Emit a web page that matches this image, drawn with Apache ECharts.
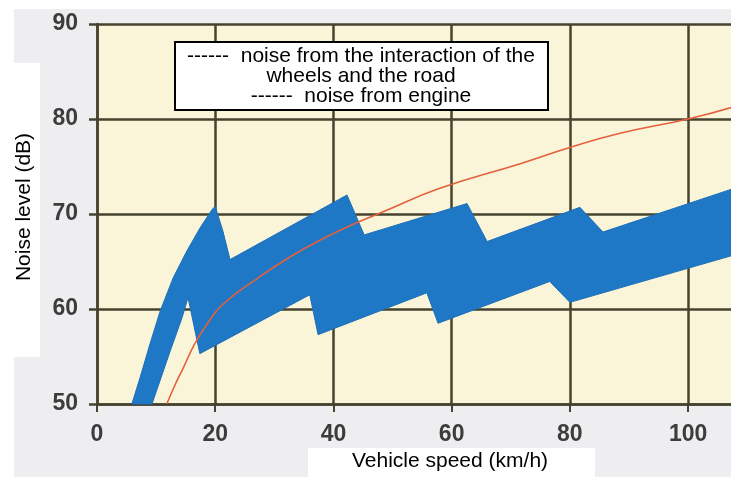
<!DOCTYPE html>
<html>
<head>
<meta charset="utf-8">
<script src="https://cdn.jsdelivr.net/npm/echarts@6/dist/echarts.min.js"></script>
<style>
  html, body { margin: 0; padding: 0; background: #ffffff; }
  #main { width: 731px; height: 477px; }
</style>
</head>
<body>
<div id="main"></div>
<script>
// tick labels
var xTicks = [0, 20, 40, 60, 80, 100];
var yTicks = [50, 60, 70, 80, 90];

// outline of the wheel/road noise band (speed km/h, level dB), clockwise
var bandX = [5.9, 7.3, 9.0, 10.7, 12.9, 15.2, 17.4, 19.5, 20.0, 21.3, 22.5, 42.3, 45.2, 62.6, 66.0, 81.7, 85.6, 107.3,
             107.3, 80.0, 76.6, 57.7, 55.8, 37.4, 36.0, 17.4, 15.4, 14.4, 12.4, 9.3];
var bandY = [50.0, 52.8, 56.4, 59.8, 63.3, 66.1, 68.5, 70.5, 70.8, 68.2, 65.2, 72.0, 67.8, 71.1, 67.1, 70.7, 68.1, 72.6,
             65.6, 60.7, 62.9, 58.5, 61.7, 57.3, 61.5, 55.3, 61.2, 59.1, 55.6, 50.0];

// engine noise curve
var engineX = [11.8, 13.2, 14.6, 16.6, 18.6, 21.3, 27.1, 32.7, 38.2, 44.0, 47.9, 58.0, 71.6, 80.0, 88.5, 100.0, 107.3];
var engineY = [50.0, 52.0, 53.8, 56.4, 58.4, 60.5, 63.2, 65.5, 67.4, 69.1, 70.1, 72.7, 75.3, 77.0, 78.5, 80.0, 81.2];

var legendLines = [
    '------  noise from the interaction of the',
    'wheels and the road',
    '------  noise from engine'
];

var myChart = echarts.init(document.getElementById('main'));

var bandData = [];
for (var i = 0; i < bandX.length; i++) {
    bandData.push([bandX[i], bandY[i]]);
}
var engineData = [];
for (var j = 0; j < engineX.length; j++) {
    engineData.push([engineX[j], engineY[j]]);
}

var gridLine = '#45432f';
var labelStyle = {
    color: '#3c3c3c',
    fontSize: 23,
    fontWeight: 'bold',
    fontFamily: 'Liberation Sans, Arial, sans-serif'
};

var option = {
    backgroundColor: '#ffffff',
    animation: false,
    grid: {
        left: 97,
        right: -2,
        top: 24,
        bottom: 73,
        outerBoundsMode: 'none',
        containLabel: false,
        show: true,
        backgroundColor: '#faf5d8',
        borderWidth: 0
    },
    xAxis: {
        type: 'value',
        min: 0,
        max: 107.6,
        interval: 20,
        axisLine: { lineStyle: { color: gridLine, width: 2.5 } },
        axisTick: { show: true, length: 8, lineStyle: { color: gridLine, width: 2 } },
        splitLine: { show: true, lineStyle: { color: gridLine, width: 2.5 } },
        axisLabel: Object.assign({
            margin: 19,
            formatter: function (v) { return xTicks.indexOf(v) >= 0 ? String(v) : ''; }
        }, labelStyle)
    },
    yAxis: {
        type: 'value',
        min: 50,
        max: 90,
        interval: 10,
        axisLine: { show: true, lineStyle: { color: gridLine, width: 2.5 } },
        axisTick: { show: true, length: 8, lineStyle: { color: gridLine, width: 2.5 } },
        splitLine: { show: true, lineStyle: { color: gridLine, width: 2.5 } },
        axisLabel: Object.assign({
            margin: 19,
            formatter: function (v) { return yTicks.indexOf(v) >= 0 ? String(v) : ''; }
        }, labelStyle)
    },
    graphic: [
        // scanned page behind the chart
        { type: 'rect', z: -10, shape: { x: 14, y: 9, width: 717, height: 468 }, style: { fill: '#eeeef0' } },
        { type: 'rect', z: -5, shape: { x: 0, y: 63, width: 40, height: 294 }, style: { fill: '#ffffff' } },
        { type: 'rect', z: -5, shape: { x: 308, y: 448, width: 287, height: 29 }, style: { fill: '#ffffff' } },
        {
            type: 'text', z: 10, x: 24, y: 207, rotation: Math.PI / 2,
            style: {
                text: 'Noise level (dB)', fill: '#000', fontSize: 21,
                fontFamily: 'Liberation Sans, Arial, sans-serif',
                textAlign: 'center', textVerticalAlign: 'middle'
            }
        },
        {
            type: 'text', z: 10, x: 450, y: 461,
            style: {
                text: 'Vehicle speed (km/h)', fill: '#000', fontSize: 21,
                fontFamily: 'Liberation Sans, Arial, sans-serif',
                textAlign: 'center', textVerticalAlign: 'middle'
            }
        },
        // legend box
        {
            type: 'rect', z: 20, shape: { x: 175, y: 42, width: 373, height: 68 },
            style: { fill: '#ffffff', stroke: '#000', lineWidth: 2 }
        },
        {
            type: 'text', z: 21, x: 361, y: 76,
            style: {
                text: legendLines.join('\n'), fill: '#000', fontSize: 21, lineHeight: 20,
                fontFamily: 'Liberation Sans, Arial, sans-serif',
                textAlign: 'center', textVerticalAlign: 'middle'
            }
        }
    ],
    series: [
        {
            name: 'noise from the interaction of the wheels and the road',
            type: 'custom',
            data: bandData,
            z: 3,
            renderItem: function (params, api) {
                if (params.dataIndex !== 0) return null;
                var pts = [];
                for (var k = 0; k < bandData.length; k++) {
                    pts.push(api.coord(bandData[k]));
                }
                return {
                    type: 'polygon',
                    shape: { points: pts },
                    style: { fill: '#1e78c6', stroke: '#1c6fb8', lineWidth: 1 }
                };
            }
        },
        {
            name: 'noise from engine',
            type: 'line',
            data: engineData,
            smooth: 0.5,
            showSymbol: false,
            z: 4,
            lineStyle: { color: '#e4603c', width: 1.6 }
        }
    ]
};

myChart.setOption(option);
</script>
</body>
</html>
